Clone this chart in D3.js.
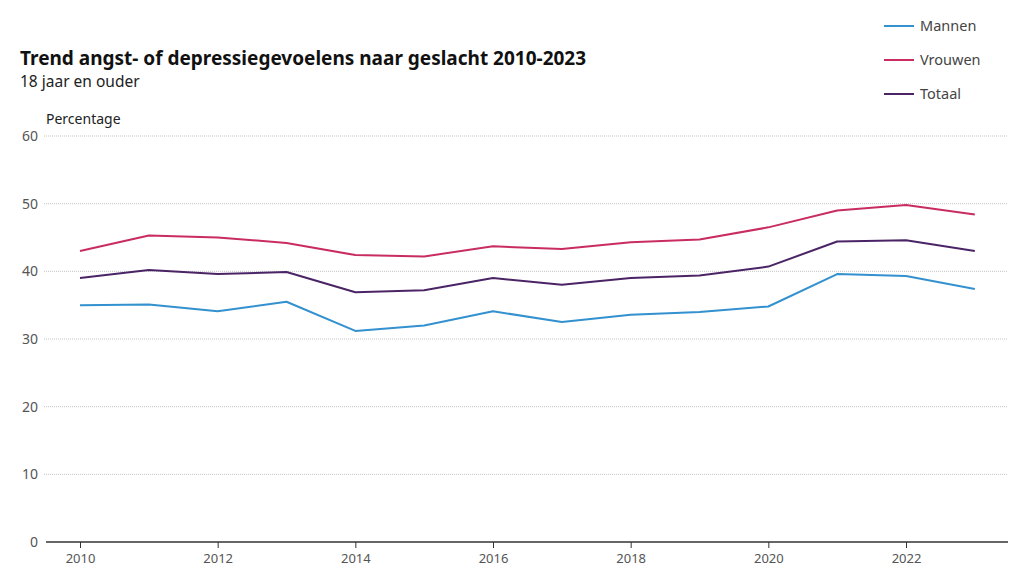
<!DOCTYPE html>
<html><head><meta charset="utf-8">
<script src="https://cdn.jsdelivr.net/npm/d3@7"></script>
<style>body{margin:0;background:#fff}svg{display:block;font-family:"Noto Sans",sans-serif}</style>
</head><body><svg id="c" width="1024" height="576"></svg>
<script>
const years = [2010,2011,2012,2013,2014,2015,2016,2017,2018,2019,2020,2021,2022,2023];
const mannen = [35.0,35.1,34.1,35.5,31.2,32.0,34.1,32.5,33.6,34.0,34.8,39.6,39.3,37.4];
const vrouwen = [43.0,45.3,45.0,44.2,42.4,42.2,43.7,43.3,44.3,44.7,46.5,49.0,49.8,48.4];
const totaal = [39.0,40.2,39.6,39.9,36.9,37.2,39.0,38.0,39.0,39.4,40.7,44.4,44.6,43.0];
const seriesNames = ["Mannen","Vrouwen","Totaal"];
const yTicks = [0,10,20,30,40,50,60];
const xTicks = [2010,2012,2014,2016,2018,2020,2022];

const colors = ["#3391cf","#c92c62","#4b2466"];
const seriesData = [mannen, vrouwen, totaal];

const svg = d3.select("#c");
const x = d3.scaleLinear().domain([2010,2022]).range([80,906]);
const y = d3.scaleLinear().domain([0,60]).range([542,136]);
const left = 44, right = 1008;

// grid
svg.append("g").selectAll("line").data(yTicks.filter(d=>d>0)).join("line")
  .attr("x1",left).attr("x2",right).attr("y1",d=>y(d)).attr("y2",d=>y(d))
  .attr("stroke","#b5b5b5").attr("stroke-width",0.8).attr("stroke-dasharray","1,1");

// y labels
svg.append("g").selectAll("text").data(yTicks).join("text")
  .attr("x",38).attr("y",d=>y(d)+5).attr("text-anchor","end")
  .attr("font-size",14).attr("fill","#555").text(d=>d);

// x axis
const xa = svg.append("g").attr("transform","translate(0,542)")
  .call(d3.axisBottom(x).tickValues(xTicks).tickFormat(d3.format("d")).tickSize(6).tickPadding(6));
xa.select(".domain").remove();
xa.selectAll(".tick line").attr("stroke","#333");
xa.selectAll(".tick text").attr("font-size",13).attr("fill","#555").attr("font-family","Noto Sans, sans-serif");
svg.append("line").attr("x1",left+2).attr("x2",right).attr("y1",542).attr("y2",542)
  .attr("stroke","#333").attr("stroke-width",1.5);

// lines
const line = d3.line().x((d,i)=>x(years[i])).y(d=>y(d));
seriesData.forEach((s,k)=>{
  svg.append("path").datum(s).attr("d",line).attr("fill","none")
    .attr("stroke",colors[k]).attr("stroke-width",2).attr("stroke-linejoin","round");
});

// titles
svg.append("text").attr("x",20).attr("y",65).attr("font-size",19).attr("font-weight",700)
  .attr("fill","#111").text("Trend angst- of depressiegevoelens naar geslacht 2010-2023");
svg.append("text").attr("x",20).attr("y",87).attr("font-size",15.5).attr("fill","#222").text("18 jaar en ouder");
svg.append("text").attr("x",46).attr("y",124).attr("font-size",14).attr("fill","#222").text("Percentage");

// legend
const lg = svg.append("g");
seriesNames.forEach((n,k)=>{
  const yy = 26 + k*34;
  lg.append("line").attr("x1",884).attr("x2",914).attr("y1",yy).attr("y2",yy)
    .attr("stroke",colors[k]).attr("stroke-width",2);
  lg.append("text").attr("x",920).attr("y",yy+5).attr("font-size",14.5).attr("fill","#444").text(n);
});
</script></body></html>
